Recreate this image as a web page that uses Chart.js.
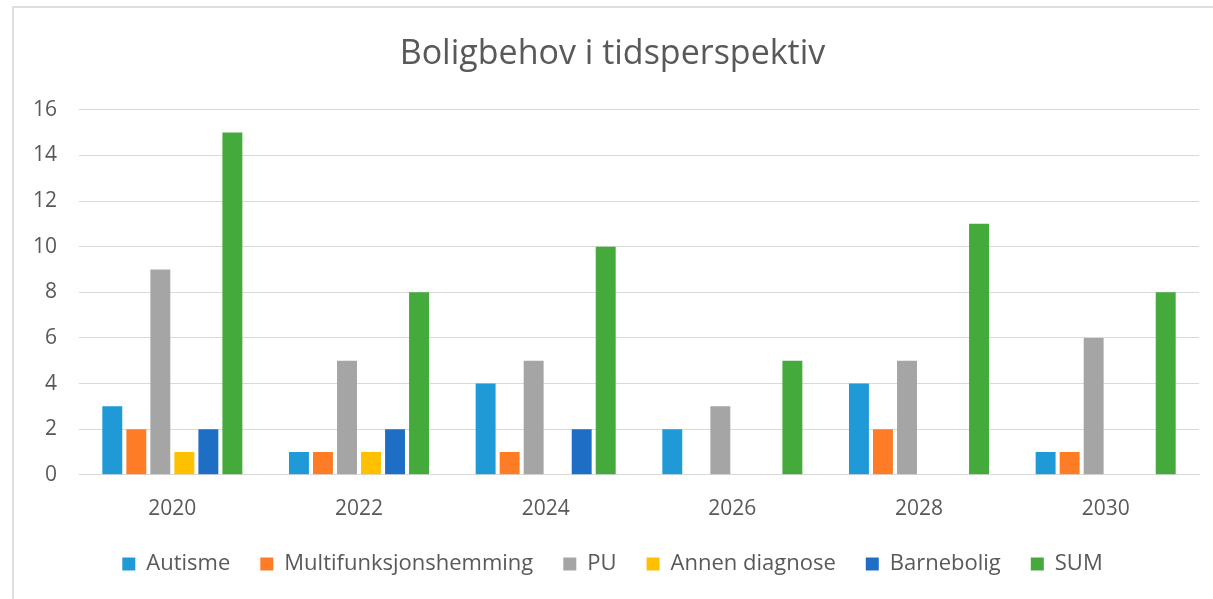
<!DOCTYPE html>
<html>
<head>
<meta charset="utf-8">
<script src="https://cdn.jsdelivr.net/npm/chart.js@4/dist/chart.umd.min.js"></script>
<style>
    html, body { margin: 0; padding: 0; background: #fff; overflow: hidden; }
    #frame { position: absolute; left: 12px; top: 6px; width: 1400px; height: 800px; border-left: 2px solid #dedede; border-top: 2px solid #dedede; }
    #wrap { position: absolute; left: 0; top: 0; width: 1213px; height: 599px; }
</style>
</head>
<body>
<div id="frame"></div>
<div id="wrap"><canvas id="chart"></canvas></div>
<script>
const years = ['2020', '2022', '2024', '2026', '2028', '2030'];
const autisme = [3, 1, 4, 2, 4, 1];
const multifunksjon = [2, 1, 1, 0, 2, 1];
const pu = [9, 5, 5, 3, 5, 6];
const annenDiagnose = [1, 1, 0, 0, 0, 0];
const barnebolig = [2, 2, 2, 0, 0, 0];
const sum = [15, 8, 10, 5, 11, 8];
const yTicks = [0, 2, 4, 6, 8, 10, 12, 14, 16];

const textColor = '#595959';
const fontFamily = '"Open Sans", sans-serif';

const series = [
    { label: 'Autisme', data: autisme, color: '#1f9ad6' },
    { label: 'Multifunksjonshemming', data: multifunksjon, color: '#fe7c26' },
    { label: 'PU', data: pu, color: '#a5a5a5' },
    { label: 'Annen diagnose', data: annenDiagnose, color: '#ffc000' },
    { label: 'Barnebolig', data: barnebolig, color: '#1e6ec6' },
    { label: 'SUM', data: sum, color: '#43aa3b' },
];

new Chart(document.getElementById('chart'), {
    type: 'bar',
    data: {
        labels: years,
        datasets: series.map((s) => ({
            label: s.label,
            data: s.data,
            backgroundColor: s.color,
            borderWidth: 0,
            categoryPercentage: 0.772,
            barPercentage: 0.83,
        })),
    },
    options: {
        responsive: true,
        maintainAspectRatio: false,
        animation: false,
        layout: { padding: { left: 26, right: 14, top: 14, bottom: 14 } },
        plugins: {
            title: {
                display: true,
                text: 'Boligbehov i tidsperspektiv',
                color: textColor,
                font: { family: fontFamily, size: 34, weight: 'normal' },
                padding: { top: 20, bottom: 35 },
            },
            legend: {
                position: 'bottom',
                labels: {
                    color: textColor,
                    font: { family: fontFamily, size: 22 },
                    boxWidth: 13,
                    boxHeight: 13,
                    padding: 30,
                },
            },
            tooltip: { enabled: false },
        },
        scales: {
            x: {
                grid: { display: false },
                border: { color: '#d9d9d9', width: 1 },
                afterFit: (scale) => { scale.height -= 13; },
                ticks: {
                    color: textColor,
                    font: { family: fontFamily, size: 21 },
                    padding: 14,
                },
            },
            y: {
                min: 0,
                max: 16,
                afterFit: (scale) => { scale.width = 53; },
                afterBuildTicks: (scale) => { scale.ticks = yTicks.map((v) => ({ value: v })); },
                grid: { color: '#d9d9d9', lineWidth: 1, drawTicks: false },
                border: { display: false },
                ticks: {
                    color: textColor,
                    font: { family: fontFamily, size: 21 },
                    padding: 22,
                },
            },
        },
    },
});
</script>
</body>
</html>
